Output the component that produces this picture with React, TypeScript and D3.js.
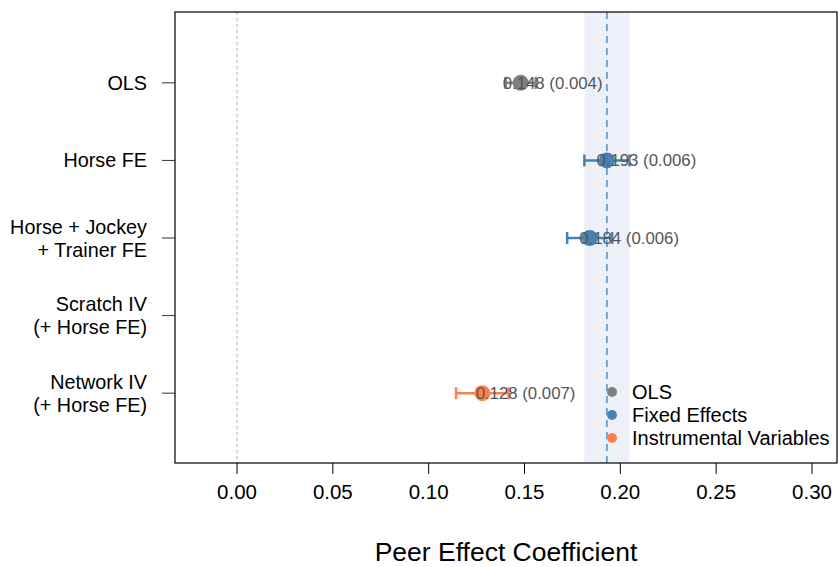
import React from "react";
import * as d3 from "d3";

const categories = ["OLS", "Horse FE", "Horse + Jockey\n+ Trainer FE", "Scratch IV\n(+ Horse FE)", "Network IV\n(+ Horse FE)"];
const estimates: (number | null)[] = [0.148, 0.193, 0.184, null, 0.128];
const stdErrors: (number | null)[] = [0.004, 0.006, 0.006, null, 0.007];
const groups = ["OLS", "Fixed Effects", "Fixed Effects", "Instrumental Variables", "Instrumental Variables"];
const legendLabels = ["OLS", "Fixed Effects", "Instrumental Variables"];
const legendColors = ["#7f7f7f", "#4682b4", "#ff7f50"];
const xTicks = [0, 0.05, 0.1, 0.15, 0.2, 0.25, 0.3];
const refIndex = 1;

const W = 838, H = 567;
const L = 175, R = 837, T = 12, B = 463;

export default function App() {
  const x = d3.scaleLinear().domain([-0.03235, 0.31305]).range([L, R]);
  const y = d3.scaleLinear().domain([0.0867, 5.9]).range([T, B]);
  const color = d3.scaleOrdinal<string, string>().domain(legendLabels).range(legendColors);
  const refEst = estimates[refIndex] as number;
  const refSe = stdErrors[refIndex] as number;
  const font = "Liberation Sans, Arial, Helvetica, sans-serif";

  return (
    <svg width={W} height={H} style={{ position: "absolute", left: 0, top: 0 }} fontFamily={font}>
      <rect x={0} y={0} width={W} height={H} fill="#fff" />
      {/* reference band */}
      <rect x={x(refEst - 1.96 * refSe)} y={T} width={x(refEst + 1.96 * refSe) - x(refEst - 1.96 * refSe)} height={B - T} fill="#edf1f7" />
      <line x1={x(refEst)} x2={x(refEst)} y1={T} y2={B} stroke="#5b93c9" strokeWidth={1.6} strokeDasharray="7,5" />
      <line x1={x(0)} x2={x(0)} y1={T} y2={B} stroke="#b0b0b0" strokeWidth={1} strokeDasharray="3,3" />
      {/* x axis */}
      {xTicks.map((t) => (
        <g key={t}>
          <line x1={x(t)} x2={x(t)} y1={B} y2={B + 11} stroke="#000" strokeWidth={1} />
          <text x={x(t)} y={B + 36} fontSize={20.5} textAnchor="middle">{t.toFixed(2)}</text>
        </g>
      ))}
      <text x={(L + R) / 2} y={H - 6} fontSize={26.5} textAnchor="middle">Peer Effect Coefficient</text>
      {/* y axis */}
      {categories.map((c, i) => {
        const lines = c.split("\n");
        const yc = y(i + 1);
        return (
          <g key={c}>
            <line x1={L - 13} x2={L} y1={yc} y2={yc} stroke="#333" strokeWidth={1} />
            {lines.map((ln, j) => (
              <text key={j} x={147} y={yc + 7 + (j - (lines.length - 1) / 2) * 23} fontSize={19.8} textAnchor="end">{ln}</text>
            ))}
          </g>
        );
      })}
      {/* estimates */}
      {categories.map((c, i) => {
        const est = estimates[i];
        const se = stdErrors[i];
        if (est == null || se == null) return null;
        const yc = y(i + 1);
        const lo = x(est - 1.96 * se), hi = x(est + 1.96 * se);
        const col = color(groups[i]);
        return (
          <g key={c}>
            <line x1={lo} x2={hi} y1={yc} y2={yc} stroke={col} strokeWidth={2.5} />
            <line x1={lo} x2={lo} y1={yc - 6} y2={yc + 6} stroke={col} strokeWidth={2.5} />
            <line x1={hi} x2={hi} y1={yc - 6} y2={yc + 6} stroke={col} strokeWidth={2.5} />
            <circle cx={x(est)} cy={yc} r={8} fill={col} />
            <text x={hi - 33} y={yc + 6} fontSize={16.8} fill="#555">{`${est.toFixed(3)} (${se.toFixed(3)})`}</text>
          </g>
        );
      })}
      {/* legend */}
      {legendLabels.map((lab, i) => (
        <g key={lab}>
          <circle cx={612} cy={392 + i * 23} r={5} fill={legendColors[i]} />
          <text x={632} y={392 + i * 23 + 7} fontSize={20}>{lab}</text>
        </g>
      ))}
      <rect x={L} y={T} width={R - L} height={B - T} fill="none" stroke="#000" strokeWidth={1.2} />
    </svg>
  );
}
